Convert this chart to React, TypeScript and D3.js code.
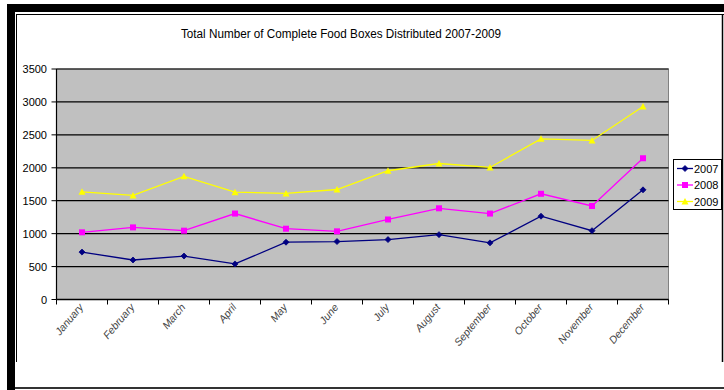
import React from "react";
import * as d3 from "d3";

const months = ["January","February","March","April","May","June","July","August","September","October","November","December"];
const s2007 = [720, 600, 660, 540, 870, 880, 910, 985, 860, 1265, 1045, 1665];
const s2008 = [1020, 1095, 1045, 1305, 1075, 1035, 1215, 1385, 1305, 1605, 1420, 2145];
const s2009 = [1635, 1580, 1870, 1630, 1610, 1670, 1955, 2065, 2005, 2440, 2415, 2930];
const yTicks = [0, 500, 1000, 1500, 2000, 2500, 3000, 3500];
const seriesNames = ["2007", "2008", "2009"];
const seriesColors = ["#000080", "#FF00FF", "#FFFF00"];

const W = 724, H = 390;
const L = 56.5, R = 668.5, T = 69, B = 299.5;

function Marker({ kind, x, y, color }: { kind: number; x: number; y: number; color: string }) {
  if (kind === 0) {
    const s = 3;
    return <path d={`M${x},${y - s}L${x + s},${y}L${x},${y + s}L${x - s},${y}Z`} fill={color} stroke={color} strokeWidth={0.8} />;
  }
  if (kind === 1) {
    return <rect x={x - 3} y={y - 3} width={6} height={6} fill={color} />;
  }
  return <path d={`M${x},${y - 3.5}L${x + 3.5},${y + 3}L${x - 3.5},${y + 3}Z`} fill={color} />;
}

export default function App() {
  const x = d3.scaleBand<string>().domain(months).range([L, R]);
  const y = d3.scaleLinear().domain([0, 3500]).range([B, T]);
  const line = d3.line<number>().x((_, i) => x(months[i])! + x.bandwidth() / 2).y(d => y(d));
  const data = [s2007, s2008, s2009];
  const boundaries = d3.range(months.length + 1).map(i => L + i * x.step());
  return (
    <svg width={W} height={H} style={{ position: "absolute", left: 0, top: 0 }}>
      <rect x={0} y={0} width={W} height={H} fill="#fff" />
      {/* frame */}
      <rect x={7} y={4} width={8} height={386} fill="#000" />
      <rect x={7} y={4} width={717} height={8} fill="#000" />
      <line x1={16.5} y1={14} x2={16.5} y2={362} stroke="#000" strokeWidth={1} />
      <line x1={16} y1={14.5} x2={724} y2={14.5} stroke="#000" strokeWidth={1} />
      <line x1={722.5} y1={14} x2={722.5} y2={362} stroke="#000" strokeWidth={1.5} />
      <line x1={15} y1={388} x2={724} y2={388} stroke="#333" strokeWidth={2} />
      {/* title */}
      <text x={341} y={38} textAnchor="middle" fontFamily="Liberation Sans, Arial" fontSize={12.5} textLength={320} lengthAdjust="spacingAndGlyphs" fill="#000">
        Total Number of Complete Food Boxes Distributed 2007-2009
      </text>
      {/* plot */}
      <rect x={L} y={T} width={R - L} height={B - T} fill="#C0C0C0" stroke="#808080" strokeWidth={1} />
      {yTicks.map(t => (
        <g key={t}>
          {t > 0 && <line x1={L} x2={R} y1={y(t)} y2={y(t)} stroke="#000" strokeWidth={1.2} />}
          <line x1={L - 5} x2={L} y1={y(t)} y2={y(t)} stroke="#000" strokeWidth={1} />
          <text x={47} y={y(t) + 4} textAnchor="end" fontFamily="Liberation Sans, Arial" fontSize={11} fill="#000">{t}</text>
        </g>
      ))}
      <line x1={L} x2={L} y1={T} y2={B} stroke="#000" strokeWidth={1.2} />
      <line x1={L} x2={R} y1={B} y2={B} stroke="#000" strokeWidth={1.5} />
      {boundaries.map((bx, i) => (
        <line key={i} x1={bx} x2={bx} y1={B} y2={B + 5} stroke="#000" strokeWidth={1} />
      ))}
      {months.map(m => {
        const cx = x(m)! + x.bandwidth() / 2;
        return (
          <text key={m} transform={`translate(${cx + 2},${B + 8}) rotate(-50)`} textAnchor="end" fontFamily="Liberation Sans, Arial" fontStyle="italic" fontSize={10.5} fill="#444">{m}</text>
        );
      })}
      {data.map((s, k) => (
        <g key={k}>
          <path d={line(s)!} fill="none" stroke={seriesColors[k]} strokeWidth={1.3} />
          {s.map((v, i) => (
            <Marker key={i} kind={k} x={x(months[i])! + x.bandwidth() / 2} y={y(v)} color={seriesColors[k]} />
          ))}
        </g>
      ))}
      {/* legend */}
      <rect x={673.5} y={159.5} width={48} height={50} fill="#fff" stroke="#000" strokeWidth={1} />
      {seriesNames.map((n, k) => {
        const ly = 168.5 + k * 16.5;
        return (
          <g key={n}>
            <line x1={677} x2={693} y1={ly} y2={ly} stroke={seriesColors[k]} strokeWidth={1.3} />
            <Marker kind={k} x={685} y={ly} color={seriesColors[k]} />
            <text x={694} y={ly + 4} fontFamily="Liberation Sans, Arial" fontSize={11} fill="#000">{n}</text>
          </g>
        );
      })}
    </svg>
  );
}
